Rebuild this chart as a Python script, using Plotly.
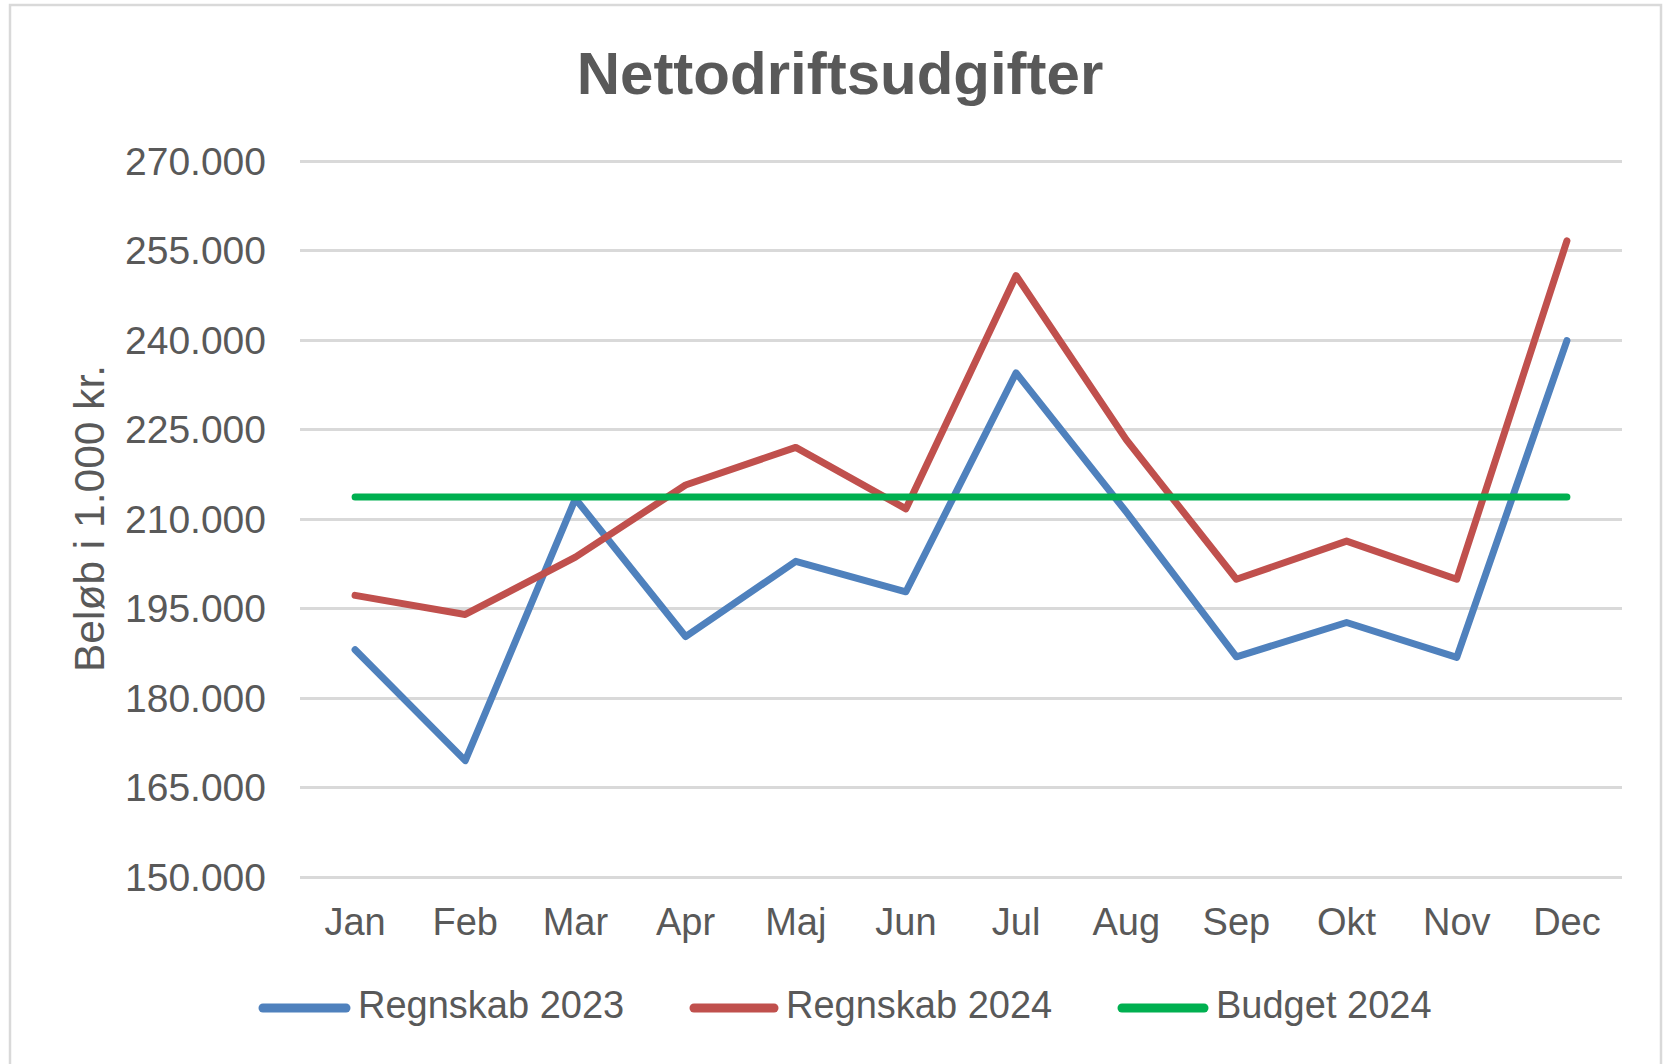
import plotly.graph_objects as go

# ---- data ----
months = ["Jan", "Feb", "Mar", "Apr", "Maj", "Jun", "Jul", "Aug", "Sep", "Okt", "Nov", "Dec"]
regnskab_2023 = [188100, 169500, 213400, 190300, 202900, 197800, 234500, 211200, 186900, 192650, 186800, 239900]
regnskab_2024 = [197200, 194000, 203600, 215700, 222000, 211700, 250800, 223300, 199900, 206300, 199900, 256600]
budget_2024 = [213700, 213700, 213700, 213700, 213700, 213700, 213700, 213700, 213700, 213700, 213700, 213700]
series_names = ["Regnskab 2023", "Regnskab 2024", "Budget 2024"]
y_ticks = [150000, 165000, 180000, 195000, 210000, 225000, 240000, 255000, 270000]

colors = ["#4F81BD", "#C0504D", "#00B050"]
TEXT = "#595959"
GRID = "#D9D9D9"
FONT = "Liberation Sans, Arial, sans-serif"

W, H = 1671, 1064
Y_MIN, Y_MAX = 150000, 270000
GRID_TOP_PX, GRID_BOT_PX = 161, 877
PAD_PX = 2
units_per_px = (Y_MAX - Y_MIN) / (GRID_BOT_PX - GRID_TOP_PX)
L, R = 300, 1622
T, B = GRID_TOP_PX - PAD_PX, GRID_BOT_PX + PAD_PX
PW, PH = R - L, B - T


def px_x(px):
    return (px - L) / PW


def px_y(py):
    return (B - py) / PH


fig = go.Figure()
for name, vals, col in zip(series_names, [regnskab_2023, regnskab_2024, budget_2024], colors):
    fig.add_trace(go.Scatter(x=months, y=vals, mode="lines", name=name,
                             line=dict(color=col, width=7), showlegend=False))

shapes = [
    dict(type="rect", xref="paper", yref="paper",
         x0=px_x(10), x1=px_x(1661), y0=px_y(1080), y1=px_y(5),
         line=dict(color=GRID, width=2.5), fillcolor="rgba(0,0,0,0)", layer="below"),
]
annotations = [
    dict(text="Beløb i 1.000 kr.", xref="paper", yref="paper", x=px_x(89), y=px_y(519),
         textangle=-90, showarrow=False, xanchor="center", yanchor="middle",
         font=dict(size=42.5, color=TEXT, family=FONT)),
]
legend_lines = [(263, 346, 356), (694, 774, 784), (1122, 1204, 1214)]
for (x0, x1, tx), name, col in zip(legend_lines, series_names, colors):
    shapes.append(dict(type="line", xref="paper", yref="paper",
                       x0=px_x(x0), x1=px_x(x1), y0=px_y(1008), y1=px_y(1008),
                       line=dict(color=col, width=9)))
    annotations.append(dict(text=name, xref="paper", yref="paper", x=px_x(tx), y=px_y(1005),
                            showarrow=False, xanchor="left", yanchor="middle",
                            font=dict(size=38, color=TEXT, family=FONT)))

fig.update_layout(
    width=W, height=H,
    margin=dict(l=L, r=W - R, t=T, b=H - B, pad=0),
    paper_bgcolor="white", plot_bgcolor="white",
    separators=",.",
    font=dict(family=FONT, color=TEXT),
    title=dict(text="<b>Nettodriftsudgifter</b>", x=840 / W, xanchor="center",
               y=1 - 72.5 / H, yanchor="middle", yref="container",
               font=dict(size=60, color=TEXT, family=FONT)),
    xaxis=dict(type="category", range=[-0.5, 11.5], showgrid=False, showline=False,
               zeroline=False, ticks="", tickfont=dict(size=38, color=TEXT),
               ticklabelstandoff=17),
    yaxis=dict(range=[Y_MIN - PAD_PX * units_per_px, Y_MAX + PAD_PX * units_per_px],
               tickvals=y_ticks, tickformat=",d",
               showgrid=True, gridcolor=GRID, gridwidth=2.6, zeroline=False,
               showline=False, ticks="", tickfont=dict(size=39, color=TEXT),
               ticklabelstandoff=33),
    shapes=shapes,
    annotations=annotations,
)

post = """
document.body.style.margin='0';
document.querySelectorAll('.js-line').forEach(function(e){e.style.strokeLinejoin='round';e.style.strokeLinecap='round';});
document.querySelectorAll('.shapelayer path').forEach(function(e){e.style.strokeLinecap='round';});
"""
fig.write_html("out.html", post_script=post, config={"displayModeBar": False})
